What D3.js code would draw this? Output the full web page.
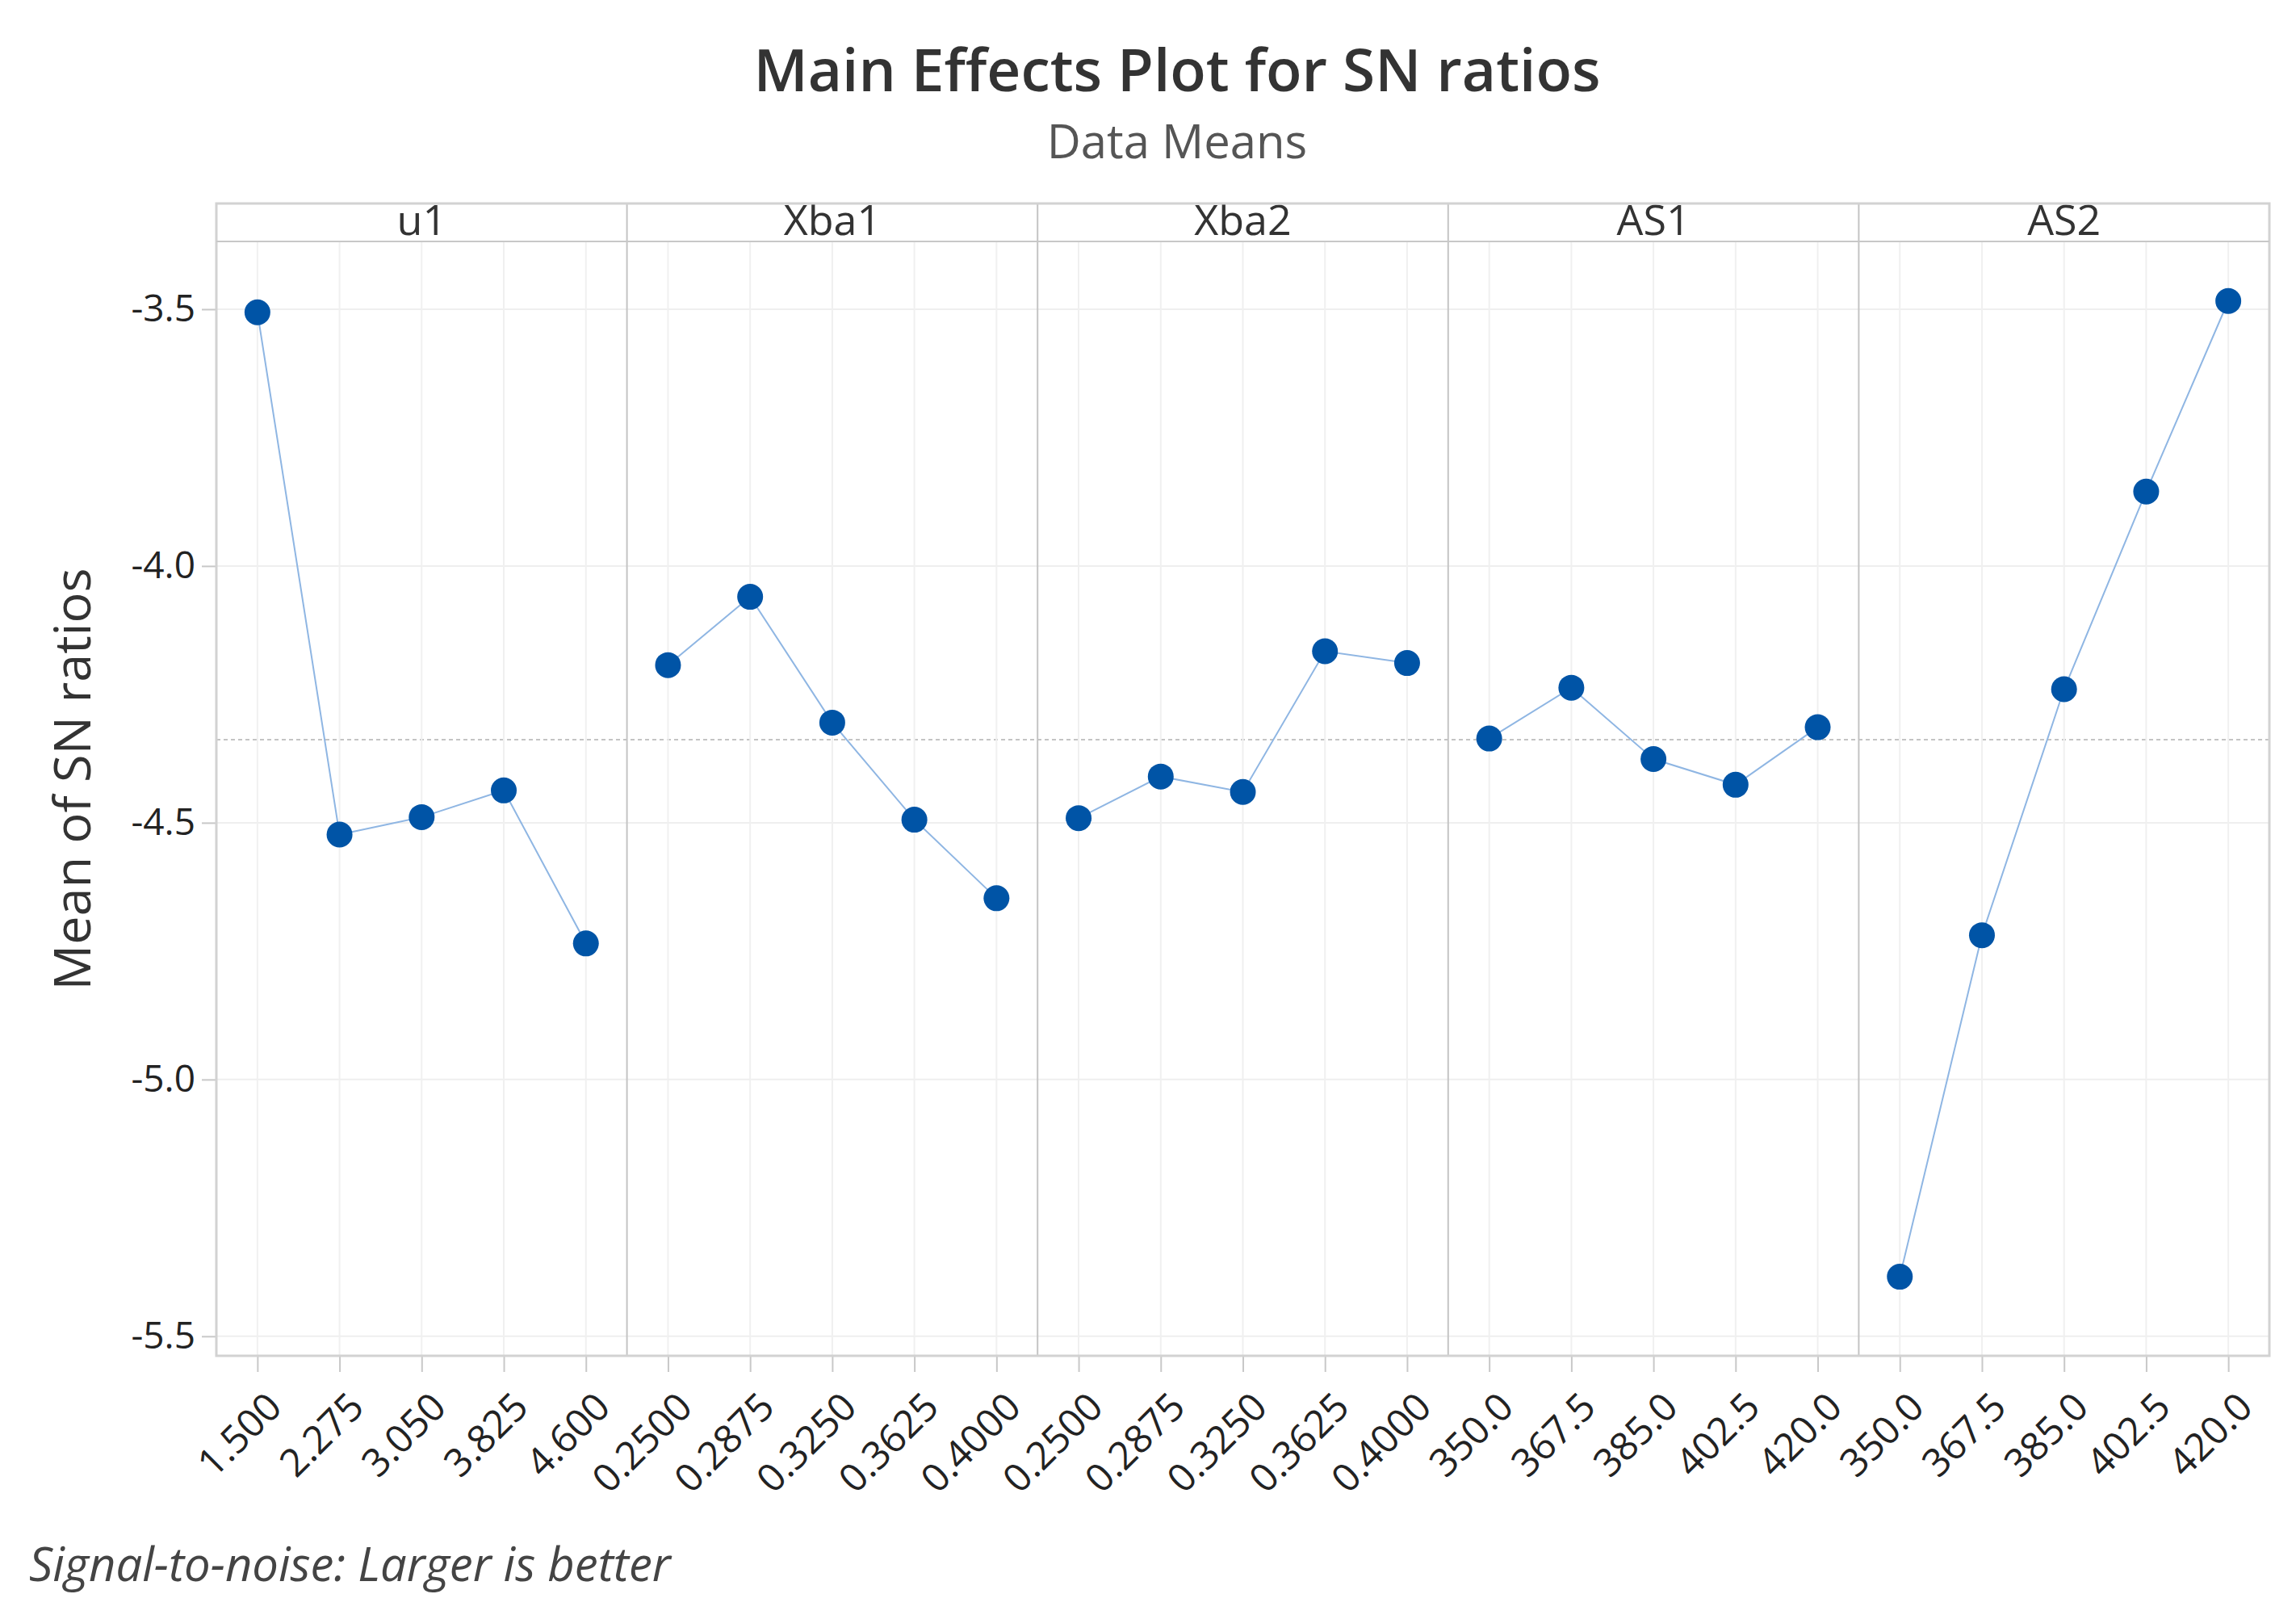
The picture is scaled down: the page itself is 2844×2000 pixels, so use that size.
<!DOCTYPE html>
<html>
<head>
<meta charset="utf-8">
<script src="https://cdn.jsdelivr.net/npm/d3@7"></script>
<style>
  html, body { margin: 0; padding: 0; background: #fff; }
  svg { display: block; font-family: "Open Sans", "Noto Sans", sans-serif; }
</style>
</head>
<body>
<svg id="vis"></svg>
<script>
const width = 2844;
const height = 2000;

// factors and their levels (tick labels)
const factors = ['u1', 'Xba1', 'Xba2', 'AS1', 'AS2'];
const levelsU1 = ['1.500', '2.275', '3.050', '3.825', '4.600'];
const levelsXba1 = ['0.2500', '0.2875', '0.3250', '0.3625', '0.4000'];
const levelsXba2 = ['0.2500', '0.2875', '0.3250', '0.3625', '0.4000'];
const levelsAS1 = ['350.0', '367.5', '385.0', '402.5', '420.0'];
const levelsAS2 = ['350.0', '367.5', '385.0', '402.5', '420.0'];

// mean SN ratios per level
const snU1 = [-3.506, -4.523, -4.489, -4.437, -4.735];
const snXba1 = [-4.193, -4.060, -4.305, -4.494, -4.647];
const snXba2 = [-4.491, -4.410, -4.440, -4.166, -4.189];
const snAS1 = [-4.336, -4.237, -4.376, -4.426, -4.314];
const snAS2 = [-5.384, -4.719, -4.240, -3.855, -3.484];

const yTicks = [-3.5, -4.0, -4.5, -5.0, -5.5];

const levels = [levelsU1, levelsXba1, levelsXba2, levelsAS1, levelsAS2];
const values = [snU1, snXba1, snXba2, snAS1, snAS2];
const panels = factors.map((f, i) => ({
  name: f,
  points: levels[i].map((l, j) => ({level: l, value: values[i][j]}))
}));
const grandMean = d3.mean(values.flat());

const plot = {left: 268, right: 2811, top: 252, strip: 299, bottom: 1679};

const svg = d3.select('#vis').attr('width', width).attr('height', height);

const panelScale = d3.scaleBand().domain(factors).range([plot.left, plot.right]).padding(0);
const yScale = d3.scaleLinear().domain([-5.538, -3.368]).range([plot.bottom, plot.strip]);

// titles
svg.append('text')
  .attr('x', 1458).attr('y', 113)
  .attr('text-anchor', 'middle')
  .style('font-size', '73px')
  .style('font-weight', 600)
  .attr('fill', '#333')
  .text('Main Effects Plot for SN ratios');
svg.append('text')
  .attr('x', 1458).attr('y', 196)
  .attr('text-anchor', 'middle')
  .style('font-size', '58px')
  .attr('fill', '#555')
  .text('Data Means');

// horizontal gridlines
svg.append('g').selectAll('line')
  .data(yTicks).enter().append('line')
  .attr('x1', plot.left).attr('x2', plot.right)
  .attr('y1', d => yScale(d)).attr('y2', d => yScale(d))
  .attr('stroke', '#efefef').attr('stroke-width', 2);

// y axis
const yAxis = svg.append('g')
  .attr('transform', `translate(${plot.left},0)`)
  .call(d3.axisLeft(yScale).tickValues(yTicks).tickSize(18).tickFormat(d => d.toFixed(1)));
yAxis.select('.domain').remove();
yAxis.selectAll('.tick line').attr('stroke', '#c8c8c8').attr('stroke-width', 2);
yAxis.selectAll('.tick text')
  .attr('x', -26)
  .style('font-size', '46px')
  .style('font-family', '"Open Sans", sans-serif')
  .attr('fill', '#222');

svg.append('text')
  .attr('transform', `translate(95,965) rotate(-90)`)
  .attr('text-anchor', 'middle')
  .attr('dominant-baseline', 'middle')
  .style('font-size', '63px')
  .attr('fill', '#333')
  .text('Mean of SN ratios');

// reference line at grand mean
svg.append('line')
  .attr('x1', plot.left).attr('x2', plot.right)
  .attr('y1', yScale(grandMean)).attr('y2', yScale(grandMean))
  .attr('stroke', '#c4c4c4').attr('stroke-width', 2)
  .attr('stroke-dasharray', '5,4');

const line = d3.line().x(d => d.x).y(d => yScale(d.value));

panels.forEach((p, i) => {
  const x0 = panelScale(p.name);
  const xScale = d3.scalePoint().domain(p.points.map(d => d.level))
    .range([x0, x0 + panelScale.bandwidth()]).padding(0.5);
  const g = svg.append('g').attr('class', 'panel');

  // vertical gridlines
  g.selectAll('line.vgrid').data(p.points).enter().append('line')
    .attr('class', 'vgrid')
    .attr('x1', d => xScale(d.level)).attr('x2', d => xScale(d.level))
    .attr('y1', plot.strip).attr('y2', plot.bottom)
    .attr('stroke', '#f0f0f0').attr('stroke-width', 2);

  // x axis
  const xAxis = g.append('g')
    .attr('transform', `translate(0,${plot.bottom})`)
    .call(d3.axisBottom(xScale).tickSize(20).tickSizeOuter(0));
  xAxis.select('.domain').remove();
  xAxis.selectAll('.tick line').attr('stroke', '#c8c8c8').attr('stroke-width', 2);
  xAxis.selectAll('.tick text')
    .attr('text-anchor', 'end')
    .attr('dy', 0)
    .attr('transform', 'translate(16,50) rotate(-45)')
    .style('font-size', '48px')
    .style('font-family', '"Open Sans", sans-serif')
    .attr('fill', '#222');

  // strip label
  g.append('text')
    .attr('x', x0 + panelScale.bandwidth() / 2).attr('y', plot.strip - 8)
    .attr('text-anchor', 'middle')
    .style('font-size', '52px')
    .attr('fill', '#333')
    .text(p.name);

  // panel separator
  if (i > 0) {
    g.append('line')
      .attr('x1', x0).attr('x2', x0)
      .attr('y1', plot.top).attr('y2', plot.bottom)
      .attr('stroke', '#c4c4c4').attr('stroke-width', 2);
  }

  const pts = p.points.map(d => ({x: xScale(d.level), value: d.value}));
  g.append('path')
    .datum(pts)
    .attr('d', line)
    .attr('fill', 'none')
    .attr('stroke', '#8fb6e3')
    .attr('stroke-width', 2);
  g.selectAll('circle').data(pts).enter().append('circle')
    .attr('cx', d => d.x).attr('cy', d => yScale(d.value))
    .attr('r', 16)
    .attr('fill', '#0054a6');
});

// frame and strip line
svg.append('rect')
  .attr('x', plot.left).attr('y', plot.top)
  .attr('width', plot.right - plot.left).attr('height', plot.bottom - plot.top)
  .attr('fill', 'none').attr('stroke', '#d2d2d2').attr('stroke-width', 3);
svg.append('line')
  .attr('x1', plot.left).attr('x2', plot.right)
  .attr('y1', plot.strip).attr('y2', plot.strip)
  .attr('stroke', '#c8c8c8').attr('stroke-width', 2);

// footnote
svg.append('text')
  .attr('x', 36).attr('y', 1958)
  .style('font-size', '58px')
  .style('font-style', 'italic')
  .attr('fill', '#444')
  .text('Signal-to-noise: Larger is better');
</script>
</body>
</html>
